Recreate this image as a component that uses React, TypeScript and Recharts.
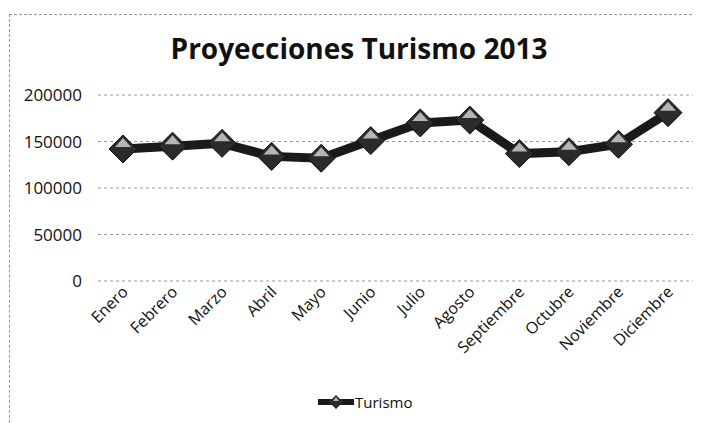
import { CartesianGrid, Line, LineChart, XAxis, YAxis } from "recharts";

const months = [
  "Enero",
  "Febrero",
  "Marzo",
  "Abril",
  "Mayo",
  "Junio",
  "Julio",
  "Agosto",
  "Septiembre",
  "Octubre",
  "Noviembre",
  "Diciembre",
];
const turismo = [
  142000, 145000, 148000, 134000, 132000, 151000, 170000, 173000, 137000, 139000, 147000, 181000,
];
const yTicks = [0, 50000, 100000, 150000, 200000];

const chartData = months.map((month, i) => ({ month, turismo: turismo[i] }));

const FONT = "'Open Sans', 'DejaVu Sans', sans-serif";

function Diamond(props: any) {
  const { cx, cy } = props;
  if (cx == null || cy == null) return null;
  const r = 14;
  return (
    <g>
      <path
        d={`M${cx},${cy - r} L${cx + r},${cy} L${cx},${cy + r} L${cx - r},${cy} Z`}
        fill="#2b2b2b"
        stroke="#111"
        strokeWidth={1}
      />
      <path
        d={`M${cx},${cy - r + 3} L${cx + 8},${cy - 2} L${cx - 8},${cy - 2} Z`}
        fill="#b5b5b5"
      />
    </g>
  );
}

function MonthTick(props: any) {
  const { x, y, payload } = props;
  const ax = x + 6;
  const ay = y + 4;
  return (
    <text
      x={ax}
      y={ay}
      textAnchor="end"
      fontFamily={FONT}
      fontSize={16}
      fill="#111"
      transform={`rotate(-45, ${ax}, ${ay})`}
    >
      {payload.value}
    </text>
  );
}

export default function App() {
  return (
    <div
      style={{
        position: "relative",
        width: 702,
        height: 423,
        margin: "-8px 0 0 -8px",
        background: "#fff",
        overflow: "hidden",
      }}
    >
      <div
        style={{
          position: "absolute",
          left: 9,
          top: 14,
          width: 702,
          height: 423,
          borderTop: "1px dashed #999",
          borderLeft: "1px dashed #999",
        }}
      />
      <div
        style={{
          position: "absolute",
          left: 0,
          width: 718,
          top: 30,
          textAlign: "center",
          fontFamily: FONT,
          fontWeight: 700,
          fontSize: 28,
          color: "#111",
          lineHeight: "36px",
        }}
      >
        Proyecciones Turismo 2013
      </div>
      <div style={{ position: "absolute", left: 0, top: 0 }}>
        <LineChart
          width={702}
          height={423}
          data={chartData}
          margin={{ top: 95, right: 9, left: 0, bottom: 0 }}
        >
          <CartesianGrid
            horizontal
            vertical={false}
            stroke="#9a9a9a"
            strokeDasharray="3 3"
          />
          <XAxis
            dataKey="month"
            interval={0}
            axisLine={false}
            tickLine={false}
            height={142}
            padding={{ left: 25, right: 25 }}
            tick={<MonthTick />}
          />
          <YAxis
            domain={[0, 200000]}
            ticks={yTicks}
            width={98}
            axisLine={false}
            tickLine={false}
            tickMargin={10}
            tick={{ fontFamily: FONT, fontSize: 17, fill: "#111" }}
          />
          <Line
            type="linear"
            dataKey="turismo"
            name="Turismo"
            stroke="#1a1a1a"
            strokeWidth={9}
            dot={<Diamond />}
            activeDot={false}
            isAnimationActive={false}
          />
        </LineChart>
      </div>
      <div
        style={{
          position: "absolute",
          left: 318,
          top: 392,
          display: "flex",
          alignItems: "center",
          fontFamily: FONT,
          fontSize: 15,
          color: "#111",
        }}
      >
        <svg width={36} height={20}>
          <line x1={0} y1={10} x2={36} y2={10} stroke="#1a1a1a" strokeWidth={6} />
          <path d="M18,3 L25,10 L18,17 L11,10 Z" fill="#2b2b2b" />
          <path d="M18,5 L21,9 L15,9 Z" fill="#b5b5b5" />
        </svg>
        <span style={{ marginLeft: 1 }}>Turismo</span>
      </div>
    </div>
  );
}
